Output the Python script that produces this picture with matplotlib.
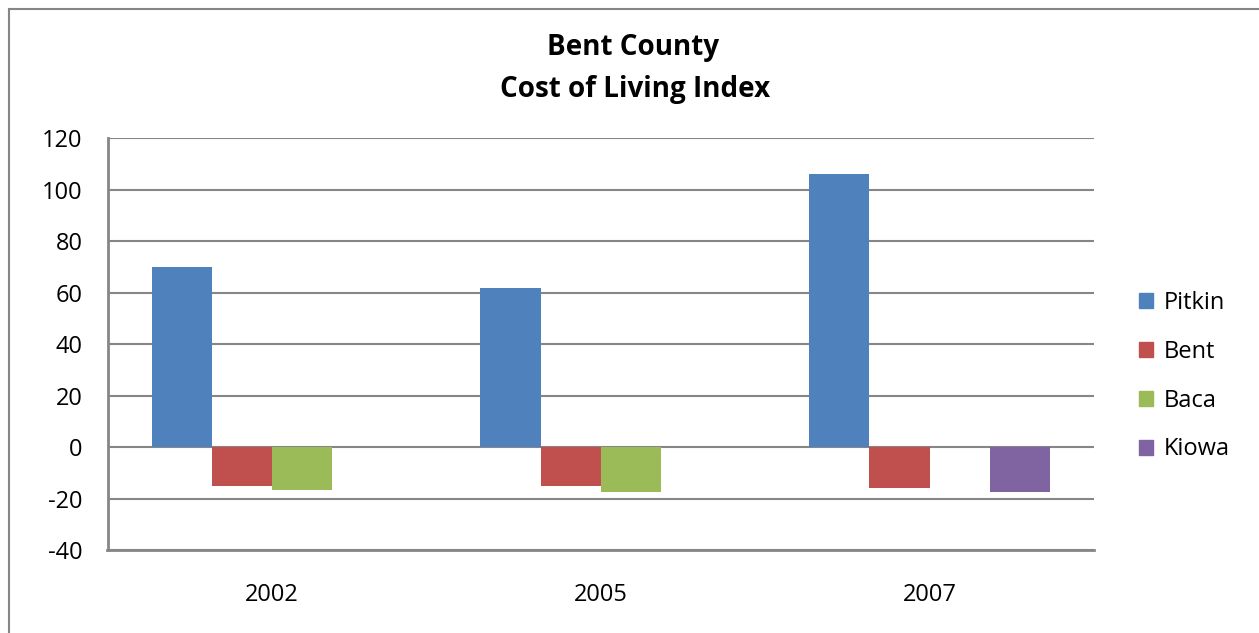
import numpy as np
import matplotlib
matplotlib.use("Agg")
import matplotlib.pyplot as plt
from matplotlib.patches import Rectangle
from matplotlib.lines import Line2D

plt.rcParams['font.family'] = ['Open Sans', 'DejaVu Sans']
plt.rcParams['axes.unicode_minus'] = False

categories = ["2002", "2005", "2007"]
series_names = ["Pitkin", "Bent", "Baca", "Kiowa"]
pitkin = [70, 62, 106]
bent = [-15.3, -15.3, -16]
baca = [-16.7, -17.6, np.nan]
kiowa = [np.nan, np.nan, -17.5]
colors = ["#4F81BD", "#C0504D", "#9BBB59", "#8064A2"]
yticks = [-40, -20, 0, 20, 40, 60, 80, 100, 120]

W, H = 1259, 633
fig = plt.figure(figsize=(W / 100, H / 100), dpi=100)
fig.patch.set_facecolor("white")

# outer frame (only left/top visible in reference)
fig.add_artist(Line2D([8.5 / W, 8.5 / W], [0, 1 - 8.5 / H], transform=fig.transFigure,
                      color="#868686", lw=1.5))
fig.add_artist(Line2D([8.5 / W, 1.0], [1 - 8.5 / H, 1 - 8.5 / H], transform=fig.transFigure,
                      color="#868686", lw=1.5))

left, right, top, bottom = 107.5, 1094, 138.3, 550
ax = fig.add_axes([left / W, (H - bottom) / H, (right - left) / W, (bottom - top) / H])

data = [pitkin, bent, baca, kiowa]
x = np.arange(len(categories))
w = 0.183
for i, (vals, c, name) in enumerate(zip(data, colors, series_names)):
    ax.bar(x + (i - 1.5) * w, vals, width=w, color=c, label=name, zorder=3)

ax.set_xlim(-0.5, len(categories) - 0.5)
ax.set_ylim(-40, 120)
ax.set_yticks(yticks)
ax.set_yticklabels([str(v) for v in yticks])
ax.set_xticks(x)
ax.set_xticklabels(categories)
ax.yaxis.grid(True, color="#868686", lw=1.5, zorder=0)
ax.set_axisbelow(True)
for s in ["top", "right"]:
    ax.spines[s].set_visible(False)
for s in ["left", "bottom"]:
    ax.spines[s].set_color("#868686")
    ax.spines[s].set_linewidth(2)
ax.tick_params(axis="both", length=0, labelsize=17, colors="black")
ax.tick_params(axis="y", pad=18)
ax.tick_params(axis="x", pad=24)

fig.text(633 / W, 1 - 48 / H, "Bent County", ha="center", va="center",
         fontsize=20, fontweight="bold")
fig.text(635 / W, 1 - 89 / H, "Cost of Living Index", ha="center", va="center",
         fontsize=20, fontweight="bold")

handles = [Rectangle((0, 0), 1, 1, color=c) for c in colors]
fig.legend(handles, series_names, loc="upper left",
           bbox_to_anchor=(1139 / W, 1 - 291 / H), frameon=False,
           fontsize=17, handlelength=0.6, handleheight=0.6,
           handletextpad=0.45, labelspacing=1.05, borderaxespad=0, borderpad=0)

fig.savefig("out.png", dpi=100, facecolor="white")
